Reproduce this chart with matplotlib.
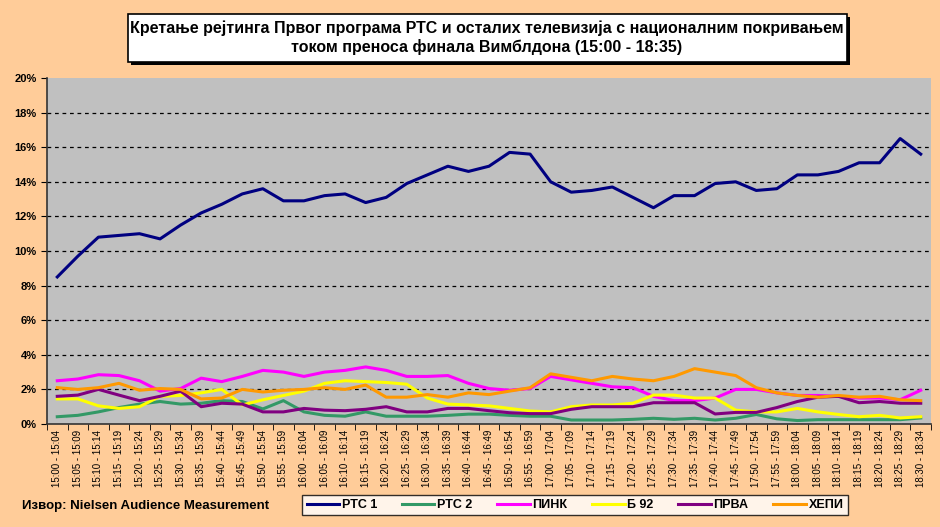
import matplotlib
matplotlib.use("Agg")
import matplotlib.pyplot as plt
import numpy as np
from matplotlib.patches import Rectangle
from matplotlib import font_manager

starts = []
for h in (15, 16, 17, 18):
    for m in range(0, 60, 5):
        if h == 18 and m > 30:
            break
        starts.append((h, m))
labels = ["%d:%02d - %d:%02d" % (h, m, h, m + 4) for h, m in starts]

rts1 = [8.5, 9.7, 10.8, 10.9, 11.0, 10.7, 11.5, 12.2, 12.7, 13.3, 13.6, 12.9, 12.9, 13.2,
        13.3, 12.8, 13.1, 13.9, 14.4, 14.9, 14.6, 14.9, 15.7, 15.6, 14.0, 13.4, 13.5, 13.7,
        13.1, 12.5, 13.2, 13.2, 13.9, 14.0, 13.5, 13.6, 14.4, 14.4, 14.6, 15.1, 15.1, 16.5, 15.6]
rts2 = [0.42, 0.5, 0.7, 0.95, 1.15, 1.3, 1.15, 1.2, 1.35, 1.3, 0.87, 1.35, 0.7, 0.5,
        0.45, 0.7, 0.45, 0.45, 0.45, 0.5, 0.57, 0.57, 0.5, 0.45, 0.45, 0.23, 0.23, 0.23,
        0.27, 0.33, 0.27, 0.33, 0.23, 0.33, 0.55, 0.3, 0.2, 0.25, 0.25, 0.25, 0.25, 0.25, 0.35]
pink = [2.5, 2.6, 2.85, 2.8, 2.5, 1.9, 2.05, 2.65, 2.45, 2.75, 3.1, 3.0, 2.75, 3.0,
        3.1, 3.3, 3.1, 2.75, 2.75, 2.8, 2.35, 2.05, 1.95, 2.05, 2.75, 2.55, 2.35, 2.15,
        2.1, 1.6, 1.35, 1.35, 1.5, 2.0, 2.0, 1.8, 1.65, 1.65, 1.6, 1.5, 1.5, 1.4, 1.95]
b92 = [1.45, 1.45, 1.05, 0.9, 1.0, 1.6, 1.65, 1.8, 2.0, 1.1, 1.4, 1.65, 1.9, 2.35,
       2.5, 2.45, 2.4, 2.3, 1.5, 1.15, 1.1, 1.05, 0.9, 0.75, 0.7, 1.0, 1.1, 1.1,
       1.2, 1.67, 1.67, 1.5, 1.5, 0.8, 0.7, 0.7, 0.9, 0.7, 0.55, 0.42, 0.5, 0.35, 0.42]
prva = [1.6, 1.67, 2.0, 1.67, 1.35, 1.6, 1.9, 1.0, 1.2, 1.15, 0.7, 0.7, 0.9, 0.8,
        0.77, 0.85, 1.0, 0.7, 0.7, 0.9, 0.9, 0.77, 0.65, 0.6, 0.6, 0.85, 1.0, 1.0,
        1.0, 1.23, 1.23, 1.23, 0.58, 0.67, 0.67, 0.95, 1.3, 1.55, 1.6, 1.23, 1.3, 1.2, 1.2]
hepi = [2.1, 2.0, 2.1, 2.35, 1.95, 2.05, 2.0, 1.45, 1.5, 2.0, 1.85, 1.95, 2.0, 2.1,
        2.0, 2.25, 1.55, 1.55, 1.7, 1.55, 1.8, 1.7, 1.9, 2.1, 2.9, 2.7, 2.5, 2.75,
        2.6, 2.5, 2.75, 3.2, 3.0, 2.8, 2.1, 1.8, 1.65, 1.55, 1.65, 1.55, 1.6, 1.4, 1.35]

series = [("РТС 1", rts1, "#000080"), ("РТС 2", rts2, "#339966"),
          ("ПИНК", pink, "#FF00FF"), ("Б 92", b92, "#FFFF00"),
          ("ПРВА", prva, "#800080"), ("ХЕПИ", hepi, "#FF9900")]

plt.rcParams['font.family'] = ['Liberation Sans', 'DejaVu Sans']

installed = {f.name for f in font_manager.fontManager.ttflist}
title_family = ['Liberation Sans Narrow'] if 'Liberation Sans Narrow' in installed else ['Liberation Sans']

fig = plt.figure(figsize=(9.4, 5.27), dpi=100)
fig.patch.set_facecolor("#FFCC99")
W, H = 940, 527
ax = fig.add_axes([47 / W, 1 - 424 / H, (931 - 47) / W, (424 - 78) / H])
ax.set_facecolor("#C0C0C0")

n = len(labels)
x = np.arange(n)
for name, vals, col in series:
    ax.plot(x, vals, color=col, lw=2.2, label=name, solid_joinstyle="round")

ax.set_xlim(-0.5, n - 0.5)
ax.set_ylim(0, 20)
yt = np.arange(0, 21, 2)
ax.set_yticks(yt)
ax.set_yticklabels(["%d%%" % v for v in yt], fontsize=8, fontweight="bold")
for v in yt[1:-1]:
    ax.axhline(v, color="black", lw=0.9, ls=(0, (3, 3)), zorder=1)

ax.set_xticks(x)
ax.set_xticklabels(labels, rotation=90, fontsize=7)
ax.set_xticks(np.arange(n + 1) - 0.5, minor=True)
ax.tick_params(axis="x", which="major", length=0, pad=4)
ax.tick_params(axis="x", which="minor", length=4, direction="out")
ax.tick_params(axis="y", length=4, direction="out")
for s in ("top", "right"):
    ax.spines[s].set_visible(False)
for s in ("left", "bottom"):
    ax.spines[s].set_color("#333333")
    ax.spines[s].set_linewidth(1.2)

# title box
sh = Rectangle((131 / W, 1 - 65 / H), (847 - 128) / W, (62 - 14) / H,
               transform=fig.transFigure, facecolor="black", edgecolor="none", zorder=2)
bx = Rectangle((128 / W, 1 - 62 / H), (847 - 128) / W, (62 - 14) / H,
               transform=fig.transFigure, facecolor="white", edgecolor="black", lw=1.2, zorder=3)
fig.patches.extend([sh, bx])
fig.text(487 / W, 1 - 38 / H,
         "Кретање рејтинга Првог програма РТС и осталих телевизија с националним покривањем\n"
         "током преноса финала Вимблдона (15:00 - 18:35)",
         ha="center", va="center", fontsize=11.5, fontweight="bold", linespacing=1.2,
         family=title_family, zorder=4)

fig.text(22 / W, 1 - 506 / H, "Извор: Nielsen Audience Measurement",
         fontsize=9.5, fontweight="bold", va="center", ha="left")

leg = fig.legend(loc="center", bbox_to_anchor=(575 / W, 1 - 505 / H), ncol=6,
                 frameon=True, fancybox=False, edgecolor="black",
                 handlelength=2.6, handletextpad=0.2, columnspacing=2.0,
                 borderpad=0.35, prop={"weight": "bold", "size": 9})
leg.get_frame().set_linewidth(1.0)

fig.savefig("out.png", dpi=100, facecolor=fig.get_facecolor())
